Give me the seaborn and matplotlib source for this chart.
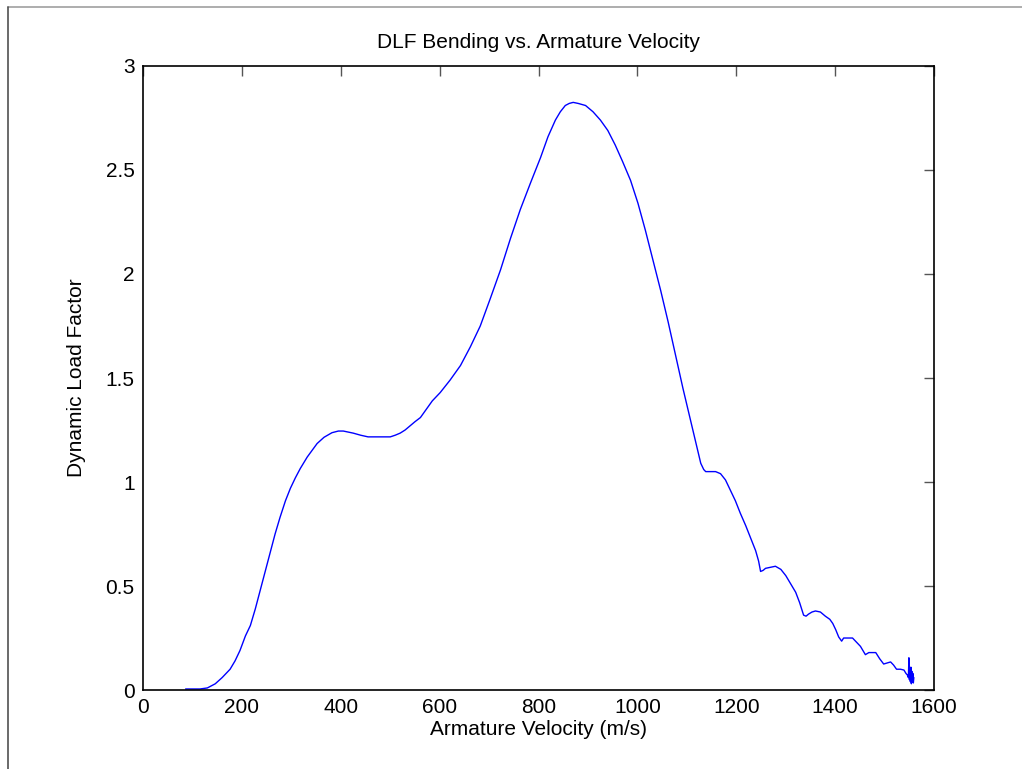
import matplotlib
matplotlib.use("Agg")
import matplotlib.pyplot as plt
from matplotlib.lines import Line2D
import seaborn as sns
import pandas as pd

velocity = [86, 100, 115, 130, 146, 160, 176, 186, 196, 207, 217, 227, 237, 247, 257, 267, 277,
            288, 298, 308, 318, 332, 352, 366, 382, 395, 405, 415, 425, 440, 455, 470, 485, 500,
            510, 520, 530, 540, 550, 561, 573, 585, 601, 621, 642, 662, 682, 702, 723, 743, 763,
            784, 804, 819, 834, 844, 854, 862, 870, 880, 895, 910, 925, 940, 955, 970, 986, 1001,
            1016, 1031, 1047, 1062, 1077, 1092, 1107, 1118, 1128, 1134, 1138, 1148, 1158, 1168,
            1178, 1188, 1198, 1208, 1219, 1229, 1239, 1245, 1249, 1254, 1259, 1269, 1279, 1290,
            1300, 1310, 1320, 1328, 1336, 1341, 1346, 1353, 1360, 1370, 1380, 1389, 1395, 1401,
            1407, 1413, 1417, 1425, 1435, 1443, 1451, 1456, 1461, 1468, 1475, 1482, 1490, 1498,
            1505, 1512, 1518, 1524, 1532, 1539, 1543, 1546, 1548, 1549, 1550, 1551, 1552, 1553,
            1554, 1555, 1556, 1557, 1558, 1559]
dlf = [0.005, 0.005, 0.005, 0.01, 0.03, 0.06, 0.10, 0.14, 0.19, 0.26, 0.31, 0.39, 0.48, 0.57,
       0.66, 0.75, 0.83, 0.91, 0.97, 1.02, 1.065, 1.12, 1.185, 1.215, 1.237, 1.245, 1.245, 1.24,
       1.235, 1.225, 1.217, 1.217, 1.217, 1.217, 1.225, 1.235, 1.25, 1.27, 1.29, 1.31, 1.35,
       1.39, 1.43, 1.49, 1.56, 1.65, 1.75, 1.88, 2.02, 2.17, 2.31, 2.44, 2.56, 2.66, 2.74, 2.78,
       2.81, 2.82, 2.825, 2.82, 2.81, 2.78, 2.74, 2.69, 2.62, 2.54, 2.45, 2.34, 2.21, 2.07, 1.92,
       1.77, 1.61, 1.45, 1.30, 1.19, 1.09, 1.06, 1.05, 1.05, 1.05, 1.04, 1.01, 0.96, 0.91, 0.85,
       0.79, 0.73, 0.67, 0.62, 0.57, 0.575, 0.585, 0.59, 0.595, 0.58, 0.55, 0.51, 0.47, 0.42,
       0.36, 0.355, 0.365, 0.375, 0.38, 0.375, 0.355, 0.34, 0.32, 0.29, 0.255, 0.235, 0.25, 0.25,
       0.25, 0.23, 0.21, 0.19, 0.17, 0.18, 0.18, 0.18, 0.15, 0.125, 0.13, 0.135, 0.12, 0.10,
       0.10, 0.096, 0.08, 0.072, 0.06, 0.155, 0.05, 0.10, 0.04, 0.11, 0.03, 0.09, 0.04, 0.08,
       0.034, 0.06]

x_ticks = [0, 200, 400, 600, 800, 1000, 1200, 1400, 1600]
y_ticks = [0, 0.5, 1, 1.5, 2, 2.5, 3]
y_tick_labels = ["0", "0.5", "1", "1.5", "2", "2.5", "3"]

df = pd.DataFrame({"velocity": velocity, "dlf": dlf})

sns.set_style("white")
plt.rcParams["font.family"] = ["Liberation Sans", "DejaVu Sans"]
plt.rcParams["text.color"] = "black"
plt.rcParams["axes.labelcolor"] = "black"

fig = plt.figure(figsize=(10.22, 7.69), dpi=100)
ax = fig.add_axes([0.140, 0.1027, 0.774, 0.8115])

sns.lineplot(data=df, x="velocity", y="dlf", ax=ax, color="#0000ff", linewidth=1.0,
             sort=False, estimator=None)

ax.set_xlim(0, 1600)
ax.set_ylim(0, 3)
ax.set_xticks(x_ticks)
ax.set_xticklabels([str(t) for t in x_ticks])
ax.set_yticks(y_ticks)
ax.set_yticklabels(y_tick_labels)
ax.tick_params(direction="in", length=7, width=1, top=True, right=True,
               labelsize=15, color="#555555", labelcolor="black", pad=6)
for s in ax.spines.values():
    s.set_visible(True)
    s.set_color("black")
    s.set_linewidth(1.2)

ax.set_title("DLF Bending vs. Armature Velocity", fontsize=15, pad=13, color="black")
ax.set_xlabel("Armature Velocity (m/s)", fontsize=15, labelpad=2, color="black")
ax.set_ylabel("Dynamic Load Factor", fontsize=15, labelpad=14, color="black")

fig.add_artist(Line2D([8 / 1022, 1.0], [1 - 7 / 769, 1 - 7 / 769], transform=fig.transFigure,
                      color="#a0a0a0", linewidth=1.2))
fig.add_artist(Line2D([8 / 1022, 8 / 1022], [1 - 7 / 769, 0.0], transform=fig.transFigure,
                      color="#505050", linewidth=1.2))

fig.savefig("out.png", dpi=100, facecolor="white")
